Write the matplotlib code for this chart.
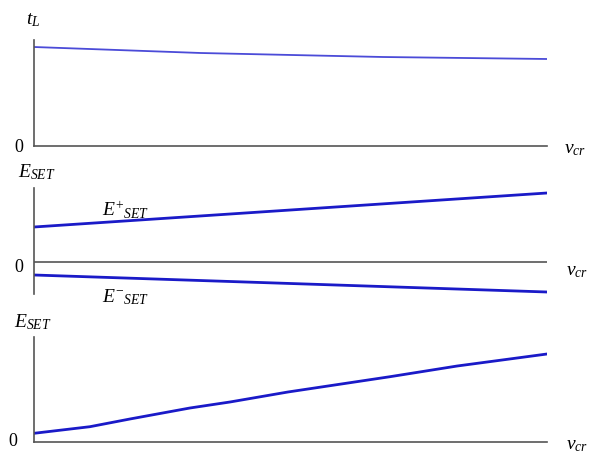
import matplotlib
matplotlib.use("Agg")
import matplotlib.pyplot as plt

plt.rcParams['font.family'] = ['Liberation Serif', 'DejaVu Serif']
plt.rcParams['mathtext.fontset'] = 'custom'
plt.rcParams['mathtext.rm'] = 'Liberation Serif'
plt.rcParams['mathtext.it'] = 'Liberation Serif:italic'

# data (arbitrary units, x axis 0..10)
tl_x = [0, 3.25, 6.8, 10]
tl_y = [99, 93, 89, 87]

eplus_x = [0, 10]
eplus_y = [35, 69]
eminus_x = [0, 10]
eminus_y = [-13, -30]

eset_x = [0, 1.09, 1.87, 3.04, 3.82, 4.95, 6.94, 8.25, 10]
eset_y = [8.7, 15.3, 23, 34, 40, 50, 65.3, 76, 88]

axis_col = '#555555'
W, H = 590, 457


def make_axes(top, bottom):
    ax = fig.add_axes([34 / W, (H - bottom) / H, 513 / W, (bottom - top) / H])
    for s in ['top', 'right']:
        ax.spines[s].set_visible(False)
    ax.spines['left'].set_color(axis_col)
    ax.spines['bottom'].set_color(axis_col)
    ax.spines['left'].set_linewidth(1.2)
    ax.spines['bottom'].set_linewidth(1.2)
    ax.set_xticks([])
    ax.set_yticks([])
    ax.set_xlim(0, 10)
    ax.patch.set_alpha(0)
    return ax


fig = plt.figure(figsize=(5.9, 4.57), dpi=100)

# panel 1: t_L
ax1 = make_axes(40, 146)
ax1.set_ylim(0, 106)
ax1.plot(tl_x, tl_y, color='#4b4bd8', lw=1.3)
fig.text(14 / W, 1 - 148 / H, '0', fontsize=13, ha='left', va='center')
fig.text(26 / W, 1 - 20 / H, r'$t_L$', fontsize=14, ha='left', va='center')
fig.text(564 / W, 1 - 150 / H, r'$v_{cr}$', fontsize=14, ha='left', va='center')

# panel 2: E+_SET / E-_SET
ax2 = make_axes(188, 294)
ax2.set_ylim(-32, 74)
ax2.spines['bottom'].set_visible(False)
ax2.axhline(0, color=axis_col, lw=1.2)
ax2.plot(eplus_x, eplus_y, color='#1a1ac8', lw=2)
ax2.plot(eminus_x, eminus_y, color='#1a1ac8', lw=2)
fig.text(14 / W, 1 - 268 / H, '0', fontsize=13, ha='left', va='center')
fig.text(18 / W, 1 - 172 / H, r'$E_{SET}$', fontsize=14, ha='left', va='center')
fig.text(102 / W, 1 - 210 / H, r'$E^{+}{}_{SET}$', fontsize=14, ha='left', va='center')
fig.text(102 / W, 1 - 297 / H, r'$E^{-}{}_{SET}$', fontsize=14, ha='left', va='center')
fig.text(566 / W, 1 - 272 / H, r'$v_{cr}$', fontsize=14, ha='left', va='center')

# panel 3: E_SET
ax3 = make_axes(337, 442)
ax3.set_ylim(0, 105)
ax3.plot(eset_x, eset_y, color='#1a1ac8', lw=2, solid_joinstyle='round')
fig.text(8 / W, 1 - 441 / H, '0', fontsize=13, ha='left', va='center')
fig.text(14 / W, 1 - 322 / H, r'$E_{SET}$', fontsize=14, ha='left', va='center')
fig.text(566 / W, 1 - 446 / H, r'$v_{cr}$', fontsize=14, ha='left', va='center')

fig.savefig('out.png', dpi=100)
